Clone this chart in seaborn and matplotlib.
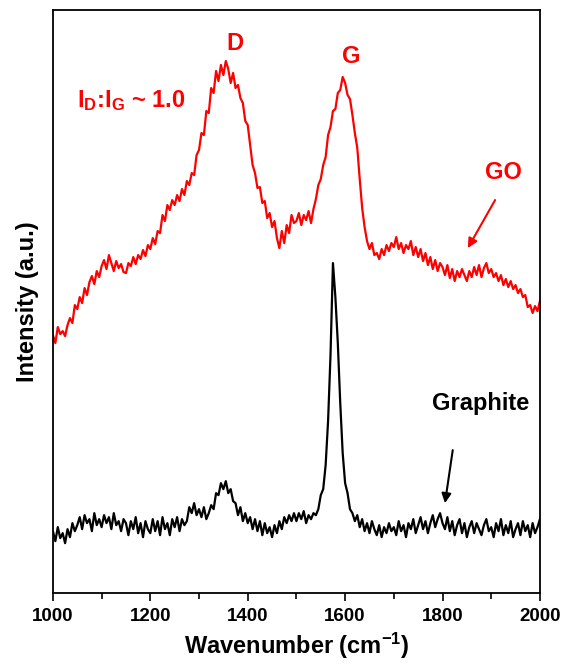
import numpy as np
import pandas as pd
import matplotlib
matplotlib.use("Agg")
import matplotlib.pyplot as plt
import seaborn as sns

# ---- data ----
wavenumber = np.arange(1000, 2001, 5)

go_intensity = [
    258, 250, 266, 259, 262, 257, 268, 275, 270, 288,
    284, 296, 290, 305, 298, 311, 317, 309, 322, 316,
    327, 333, 324, 338, 330, 322, 332, 325, 329, 321,
    320, 330, 327, 336, 329, 338, 334, 343, 337, 348,
    344, 355, 349, 362, 360, 378, 372, 388, 383, 393,
    388, 398, 392, 404, 398, 412, 408, 420, 418, 438,
    443, 460, 458, 482, 480, 505, 500, 522, 512, 528,
    518, 532, 524, 510, 520, 505, 508, 495, 490, 472,
    468, 448, 428, 420, 405, 406, 390, 392, 375, 380,
    366, 372, 355, 345, 362, 350, 368, 360, 378, 370,
    372, 380, 368, 378, 373, 382, 370, 384, 394, 408,
    414, 428, 436, 458, 466, 482, 484, 500, 503, 516,
    510, 498, 494, 478, 460, 445, 414, 385, 366, 352,
    344, 350, 338, 340, 334, 344, 338, 348, 342, 350,
    346, 356, 344, 350, 340, 348, 344, 352, 338, 346,
    336, 344, 332, 340, 328, 336, 324, 333, 322, 330,
    326, 318, 328, 315, 324, 312, 322, 316, 324, 318,
    312, 322, 316, 326, 318, 328, 316, 325, 330, 320,
    324, 316, 320, 312, 318, 308, 314, 306, 312, 304,
    308, 300, 304, 296, 298, 286, 288, 280, 287, 282,
    292,
]

graphite_intensity = [
    62, 52, 66, 55, 60, 50, 64, 56, 70, 62,
    68, 76, 64, 78, 70, 74, 62, 80, 68, 74,
    66, 78, 70, 76, 64, 80, 68, 72, 62, 74,
    70, 58, 72, 64, 76, 60, 70, 56, 72, 64,
    60, 74, 62, 72, 58, 76, 64, 70, 58, 74,
    66, 76, 62, 74, 68, 72, 86, 80, 90, 78,
    84, 76, 86, 74, 80, 88, 84, 100, 98, 110,
    104, 112, 100, 104, 92, 90, 78, 86, 72, 80,
    70, 76, 64, 74, 62, 72, 58, 70, 60, 66,
    56, 68, 60, 72, 64, 76, 70, 78, 72, 80,
    72, 80, 74, 82, 70, 78, 74, 80, 78, 84,
    98, 104, 128, 172, 238, 330, 296, 250, 190, 140,
    110, 100, 84, 80, 72, 78, 66, 74, 62, 70,
    60, 72, 64, 58, 68, 56, 66, 60, 70, 62,
    66, 58, 72, 62, 68, 56, 70, 64, 74, 60,
    68, 76, 64, 72, 60, 70, 78, 66, 74, 80,
    70, 64, 76, 62, 72, 58, 68, 74, 60, 70,
    56, 66, 72, 60, 70, 64, 58, 68, 74, 62,
    66, 56, 70, 62, 74, 58, 68, 60, 72, 56,
    64, 70, 58, 72, 62, 68, 56, 70, 60, 66,
    74,
]

x_ticks = [1000, 1200, 1400, 1600, 1800, 2000]

df = pd.DataFrame({
    "wavenumber": np.concatenate([wavenumber, wavenumber]),
    "intensity": go_intensity + graphite_intensity,
    "sample": ["GO"] * len(wavenumber) + ["Graphite"] * len(wavenumber),
})

# ---- style ----
sns.set_style("ticks")
plt.rcParams["font.family"] = ["Liberation Sans", "DejaVu Sans"]
plt.rcParams["font.weight"] = "bold"
plt.rcParams["text.color"] = "black"
plt.rcParams["axes.labelcolor"] = "black"
plt.rcParams["axes.edgecolor"] = "black"
plt.rcParams["xtick.color"] = "black"
plt.rcParams["ytick.color"] = "black"
plt.rcParams["mathtext.fontset"] = "custom"
plt.rcParams["mathtext.rm"] = "Liberation Sans:bold"
plt.rcParams["mathtext.bf"] = "Liberation Sans:bold"
plt.rcParams["mathtext.it"] = "Liberation Sans:bold"

fig = plt.figure(figsize=(5.63, 6.65), dpi=100)
ax = fig.add_axes([0.094, 0.108, 0.865, 0.877])

sns.lineplot(data=df, x="wavenumber", y="intensity", hue="sample",
             palette={"GO": "#ff0000", "Graphite": "#000000"},
             linewidth=1.6, legend=False, ax=ax)

ax.set_xlim(1000, 2000)
ax.set_ylim(0, 583)
ax.set_xticks(x_ticks)
ax.set_xticks(np.arange(1100, 2000, 200), minor=True)
ax.set_yticks([])
ax.tick_params(axis="x", which="major", direction="out", length=6, width=1.2,
               labelsize=13.5, pad=5, colors="black")
ax.tick_params(axis="x", which="minor", direction="out", length=4, width=1.2,
               colors="black")
for lab in ax.get_xticklabels():
    lab.set_fontweight("bold")
for s in ax.spines.values():
    s.set_linewidth(1.3)
    s.set_color("black")
    s.set_visible(True)

ax.set_xlabel(r"Wavenumber (cm$^{\mathbf{-1}}$)", fontsize=17, fontweight="bold",
              labelpad=4, color="black")
ax.set_ylabel("Intensity (a.u.)", fontsize=17, fontweight="bold", labelpad=10,
              color="black")

# ---- annotations ----
ax.text(1374, 549, "D", color="#ff0000", fontsize=17, fontweight="bold",
        ha="center", va="center")
ax.text(1612, 536, "G", color="#ff0000", fontsize=17, fontweight="bold",
        ha="center", va="center")
ax.text(1049, 486, r"I$_\mathbf{D}$:I$_\mathbf{G}$ ~ 1.0", color="#ff0000",
        fontsize=17, fontweight="bold", ha="left", va="baseline")
ax.text(1925, 421, "GO", color="#ff0000", fontsize=17, fontweight="bold",
        ha="center", va="center")
ax.text(1879, 190, "Graphite", color="black", fontsize=17, fontweight="bold",
        ha="center", va="center")

ax.annotate("", xy=(1852, 345), xytext=(1908, 393),
            arrowprops=dict(arrowstyle="-|>", color="#ff0000", lw=1.5,
                            mutation_scale=14, shrinkA=0, shrinkB=0))
ax.annotate("", xy=(1805, 90), xytext=(1821, 143),
            arrowprops=dict(arrowstyle="-|>", color="black", lw=1.5,
                            mutation_scale=14, shrinkA=0, shrinkB=0))

fig.savefig("out.png", dpi=100)
